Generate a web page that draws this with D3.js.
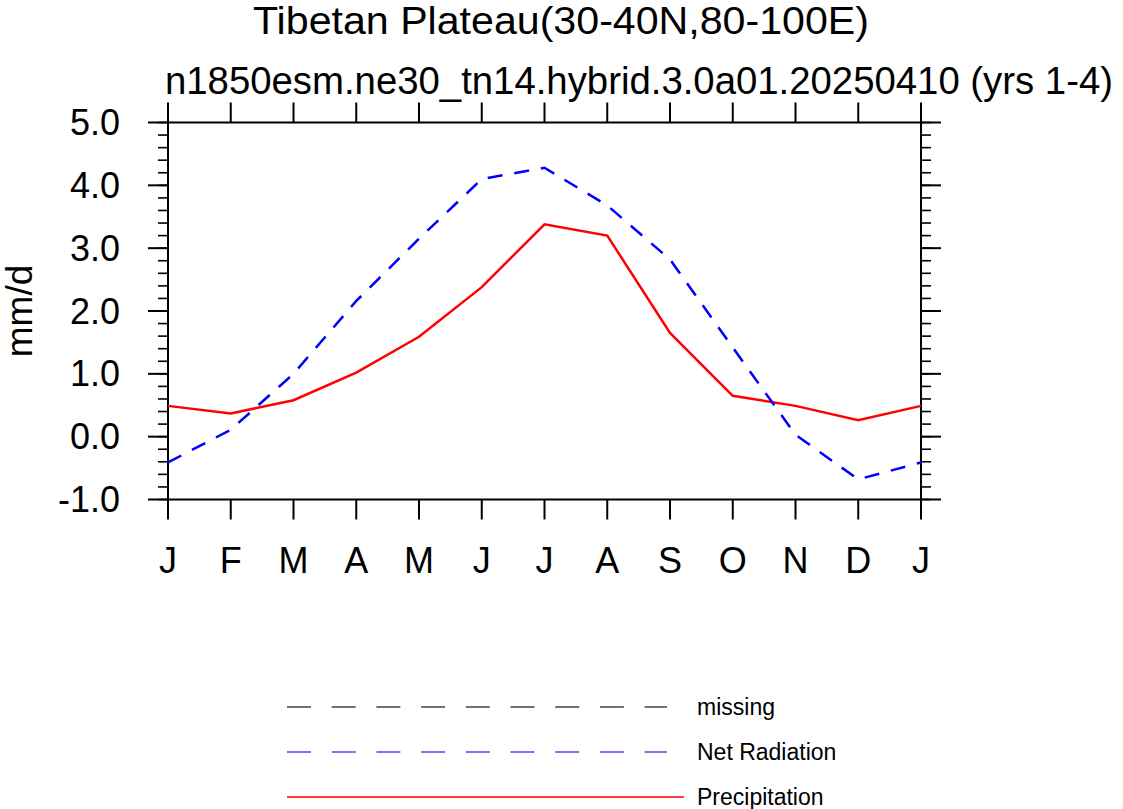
<!DOCTYPE html>
<html>
<head>
<meta charset="utf-8">
<script src="https://cdn.jsdelivr.net/npm/d3@7"></script>
<style>
  html, body { margin: 0; padding: 0; background: #fff; }
  svg { display: block; font-family: "Liberation Sans", Arial, Helvetica, sans-serif; }
</style>
</head>
<body>
<svg id="chart" width="1123" height="809"></svg>
<script>
// ---- data ----
const monthLabels = ["J","F","M","A","M","J","J","A","S","O","N","D","J"];
const netRadiation = [-0.41, 0.11, 1.00, 2.16, 3.15, 4.10, 4.28, 3.68, 2.82, 1.42, 0.03, -0.68, -0.41];
const precipitation = [0.49, 0.37, 0.58, 1.02, 1.59, 2.38, 3.38, 3.20, 1.65, 0.65, 0.49, 0.26, 0.49];
const yMajorTicks = [-1, 0, 1, 2, 3, 4, 5];
const yMinorTicks = d3.range(-1, 5.0001, 0.2);
const titleText = "Tibetan Plateau(30-40N,80-100E)";
const subtitleText = "n1850esm.ne30_tn14.hybrid.3.0a01.20250410 (yrs 1-4)";
const yLabelText = "mm/d";
const legendItems = [
  { label: "missing", color: "#444444", dash: "24 20.7", x2: 667 },
  { label: "Net Radiation", color: "#4a4aff", dash: "24 20.7", x2: 667 },
  { label: "Precipitation", color: "#ff0000", dash: null, x2: 684 }
];

// ---- layout ----
const L = 168, R = 921, T = 122.5, B = 499.5;
const svg = d3.select("#chart");
const x = d3.scaleLinear().domain([0, 12]).range([L, R]);
const y = d3.scaleLinear().domain([-1, 5]).range([B, T]);
const fmt = d3.formatLocale({ decimal: ".", thousands: ",", grouping: [3], currency: ["", ""], minus: "-" }).format(".1f");

// titles
svg.append("text").attr("x", 561).attr("y", 34).attr("text-anchor", "middle")
  .attr("font-size", 38).attr("textLength", 616).attr("lengthAdjust", "spacingAndGlyphs")
  .text(titleText);
svg.append("text").attr("x", 165).attr("y", 94).attr("text-anchor", "start")
  .attr("font-size", 38).attr("textLength", 948).attr("lengthAdjust", "spacingAndGlyphs")
  .text(subtitleText);

// frame
svg.append("rect").attr("x", L).attr("y", T).attr("width", R - L).attr("height", B - T)
  .attr("fill", "none").attr("stroke", "#000").attr("stroke-width", 2);

const tickG = svg.append("g").attr("stroke", "#000").attr("stroke-width", 2);
// y minor ticks (outward) left & right
yMinorTicks.forEach(v => {
  const yy = y(v);
  tickG.append("line").attr("x1", L - 10).attr("x2", L).attr("y1", yy).attr("y2", yy).attr("stroke-width", 1.6);
  tickG.append("line").attr("x1", R).attr("x2", R + 10).attr("y1", yy).attr("y2", yy).attr("stroke-width", 1.6);
});
yMajorTicks.forEach(v => {
  const yy = y(v);
  tickG.append("line").attr("x1", L - 20).attr("x2", L).attr("y1", yy).attr("y2", yy);
  tickG.append("line").attr("x1", R).attr("x2", R + 20).attr("y1", yy).attr("y2", yy);
});
monthLabels.forEach((m, i) => {
  const xx = x(i);
  tickG.append("line").attr("x1", xx).attr("x2", xx).attr("y1", B).attr("y2", B + 20);
  tickG.append("line").attr("x1", xx).attr("x2", xx).attr("y1", T - 20).attr("y2", T);
});

// tick labels
svg.append("g").selectAll("text").data(yMajorTicks).join("text")
  .attr("x", 120).attr("y", d => y(d)).attr("dy", "0.35em")
  .attr("text-anchor", "end").attr("font-size", 36)
  .text(d => fmt(d));
svg.append("g").selectAll("text").data(monthLabels).join("text")
  .attr("x", (d, i) => x(i)).attr("y", 573)
  .attr("text-anchor", "middle").attr("font-size", 36)
  .text(d => d);

// y label
svg.append("text").attr("transform", "translate(32,311) rotate(-90)")
  .attr("text-anchor", "middle").attr("font-size", 37).text(yLabelText);

// lines
const line = d3.line().x((d, i) => x(i)).y(d => y(d));
svg.append("path").datum(precipitation).attr("d", line)
  .attr("fill", "none").attr("stroke", "#ff0000").attr("stroke-width", 2.5).attr("stroke-linejoin", "miter");
svg.append("path").datum(netRadiation).attr("d", line)
  .attr("fill", "none").attr("stroke", "#0000ff").attr("stroke-width", 2.5)
  .attr("stroke-dasharray", "15 12").attr("stroke-linejoin", "miter");

// legend
const legendY = d3.scalePoint().domain(legendItems.map(d => d.label)).range([707, 797]);
const lg = svg.append("g");
legendItems.forEach(it => {
  const yy = legendY(it.label);
  const ln = lg.append("line").attr("x1", 287).attr("x2", it.x2).attr("y1", yy).attr("y2", yy)
    .attr("stroke", it.color).attr("stroke-width", 1.4);
  if (it.dash) ln.attr("stroke-dasharray", it.dash);
  lg.append("text").attr("x", 697).attr("y", yy).attr("dy", "0.36em")
    .attr("font-size", 23).text(it.label);
});
</script>
</body>
</html>
